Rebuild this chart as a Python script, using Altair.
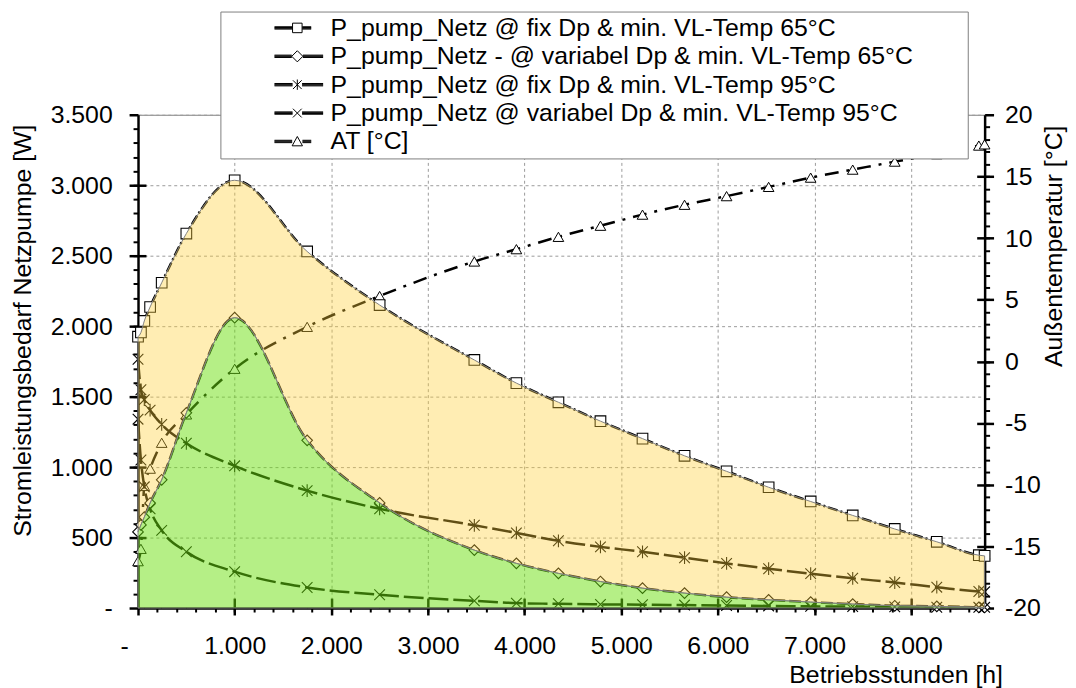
import altair as alt
import pandas as pd

FONT = "Liberation Sans"

# ---------------- data ----------------
hours = [0, 30, 65, 125, 245, 500, 1000, 1750, 2500, 3480, 3915, 4350, 4785,
         5220, 5655, 6090, 6525, 6960, 7395, 7830, 8265, 8700, 8760]
fix65 = [1925, 1955, 2037, 2136, 2308, 2657, 3035, 2530, 2150, 1760, 1596, 1460,
         1326, 1202, 1080, 970, 857, 756, 657, 561, 470, 375, 370]
var65 = [540, 590, 645, 745, 910, 1385, 2060, 1190, 746, 411, 317, 246, 188,
         141, 106, 77, 58, 42, 28, 16, 12, 5, 4]
fix95 = [1765, 1549, 1479, 1404, 1303, 1169, 1009, 833, 704, 587, 533, 477, 434,
         399, 357, 317, 279, 244, 211, 181, 148, 117, 115]
var95 = [1340, 1050, 860, 704, 551, 399, 258, 146, 94, 51, 35, 30, 26, 24, 21,
         18, 15, 12, 10, 8, 6, 5, 5]
at = [-16.2, -15.2, -10.1, -8.7, -6.6, -4.3, -0.6, 2.8, 5.3, 8.1, 9.1, 10.1, 11.0,
      11.9, 12.7, 13.4, 14.15, 14.9, 15.55, 16.2, 16.8, 17.5, 17.6]

SERIES = [
    "P_pump_Netz @ fix Dp & min. VL-Temp 65°C",
    "P_pump_Netz - @ variabel Dp & min. VL-Temp 65°C",
    "P_pump_Netz @ fix Dp & min. VL-Temp 95°C",
    "P_pump_Netz @ variabel Dp & min. VL-Temp 95°C",
    "AT [°C]",
]

x_major = [0, 1000, 2000, 3000, 4000, 5000, 6000, 7000, 8000]
x_minor = list(range(200, 8800, 200))
w_major = [0, 500, 1000, 1500, 2000, 2500, 3000, 3500]
w_minor = list(range(100, 3500, 100))
t_major = [-20, -15, -10, -5, 0, 5, 10, 15, 20]
t_minor = list(range(-19, 20))

# ---------------- styles ----------------
DASHES = [[10, 3, 2, 3], [12, 4], [20, 5], [20, 5], [14, 8, 3, 8]]
WIDTHS = [2.5, 2.5, 3, 3, 2.5]
ASTERISK = "M-1,-1L1,1M-1,1L1,-1M0,-1.2L0,1.2"
CROSS = "M-1,-1L1,1M-1,1L1,-1"
SHAPES = ["square", "diamond", ASTERISK, CROSS, "triangle-up"]
YELLOW = "#FFD037"
GREEN = "#6BDF0D"


def band(x0, x1):
    return "".join(f"M{x0},{d}H{x1}" for d in (-0.3, -0.1, 0.1, 0.3))


# legend samples: line segment + marker + line segment (unit = 4 px)
LEG_PATHS = [
    band(-5.75, -1.25) + "M-1.2,-1.2H1.2V1.2H-1.2Z" + band(1.25, 3.5),
    band(-5.75, -1.4) + "M0,-1.4L1.4,0L0,1.4L-1.4,0Z" + band(1.4, 6.5),
    band(-5.75, -1.2) + "M-1.1,-1.1L1.1,1.1M-1.1,1.1L1.1,-1.1M0,-1.3L0,1.3" + band(1.2, 6.5),
    band(-5.75, -1.2) + "M-1.1,-1.1L1.1,1.1M-1.1,1.1L1.1,-1.1" + band(1.2, 6.5),
    band(-5.75, -1.3) + "M0,-1.25L1.3,1.1H-1.3Z" + band(1.3, 3.5),
]

rows = []
for s, vals in zip(SERIES[:4], [fix65, var65, fix95, var95]):
    for h, v in zip(hours, vals):
        rows.append({"h": h, "v": v, "s": s})
power = pd.DataFrame(rows)
temp = pd.DataFrame({"h": hours, "v": at, "s": SERIES[4]})
wide = pd.DataFrame({"h": hours, "fix": fix65, "var": var65})

X_SCALE = alt.Scale(domain=[0, 8760], nice=False, zero=False)
W_SCALE = alt.Scale(domain=[0, 3500], nice=False, zero=False)
T_SCALE = alt.Scale(domain=[-20, 20], nice=False, zero=False)

legend = alt.Legend(
    title=" ", titleOrient="right", titlePadding=51, titleFontSize=25,
    orient="none", legendX=83, legendY=-104,
    symbolSize=64, symbolStrokeWidth=1, symbolStrokeColor="black",
    symbolOpacity=1, symbolOffset=61, labelOffset=21,
    padding=4, rowPadding=2.6, labelFont=FONT, labelFontSize=25,
    labelColor="black", labelLimit=1000, fillColor="white",
    strokeColor="#7f7f7f",
)

dash_enc = alt.StrokeDash("s:N", scale=alt.Scale(domain=SERIES, range=DASHES), legend=None)
width_enc = alt.StrokeWidth("s:N", scale=alt.Scale(domain=SERIES, range=WIDTHS), legend=None)
shape_enc = alt.Shape("s:N", scale=alt.Scale(domain=SERIES, range=SHAPES), legend=None)
leg_shape_enc = alt.Shape("s:N", scale=alt.Scale(domain=SERIES, range=LEG_PATHS), legend=legend)

NO = dict(labels=False, domain=False, grid=False, title=None)

ax_x_main = alt.Axis(
    orient="bottom", values=x_major, grid=True, tickSize=7, labelPadding=19,
    labelFlush=False, labelOverlap=False,
    labelOffset={"condition": {"test": "datum.value == 0", "value": -14}, "value": 0},
    labelExpr="datum.value == 0 ? '-' : replace(format(datum.value, ','), ',', '.')",
    title="Betriebsstunden [h]", titleX=871, titleY=67, titleAlign="right",
    titleBaseline="middle",
)
ax_x_minor = alt.Axis(orient="bottom", values=x_minor, tickSize=4, tickWidth=2, **NO)
ax_x_in = alt.Axis(orient="bottom", values=x_major[1:], offset=-10, tickSize=10, **NO)

ax_w_main = alt.Axis(
    orient="left", values=w_major, grid=True, tickSize=9, labelPadding=17,
    labelFlush=False, labelOverlap=False, labelBound=False,
    labelExpr="datum.value == 0 ? '-' : replace(format(datum.value, ','), ',', '.')",
    title="Stromleistungsbedarf Netzpumpe [W]", titleAngle=270, titleX=-116,
    titleY=217, titleAlign="center", titleBaseline="middle",
)
ax_w_minor = alt.Axis(orient="left", values=w_minor, tickSize=5, tickWidth=2, **NO)
ax_w_in = alt.Axis(orient="left", values=w_major[1:-1], offset=-8, tickSize=8, **NO)
ax_w_right_in = alt.Axis(orient="right", values=[437.5 * k for k in range(1, 8)],
                         offset=-8, tickSize=8, **NO)

ax_t_main = alt.Axis(
    orient="right", values=t_major, grid=False, tickSize=9, labelPadding=11,
    labelFlush=False, labelOverlap=False, labelExpr="'' + datum.value",
    title="Außentemperatur [°C]", titleAngle=270, titleX=69, titleY=132,
    titleAlign="center", titleBaseline="middle",
)
ax_t_minor = alt.Axis(orient="right", values=t_minor, tickSize=5, tickWidth=2, **NO)

# ---------------- layers ----------------
at_line = alt.Chart(temp).mark_line(color="black", interpolate="monotone").encode(
    x=alt.X("h:Q", scale=X_SCALE, axis=ax_x_main),
    y=alt.Y("v:Q", scale=T_SCALE, axis=ax_t_main),
    strokeDash=dash_enc, strokeWidth=width_enc,
)
at_pts = alt.Chart(temp).mark_point(
    filled=True, fill="white", stroke="black", strokeWidth=1, size=115, opacity=1
).encode(
    x=alt.X("h:Q", scale=X_SCALE, axis=ax_x_minor),
    y=alt.Y("v:Q", scale=T_SCALE, axis=ax_t_minor),
    shape=shape_enc,
)
p_lines = alt.Chart(power).mark_line(color="black", interpolate="monotone").encode(
    x=alt.X("h:Q", scale=X_SCALE, axis=ax_x_in),
    y=alt.Y("v:Q", scale=W_SCALE, axis=ax_w_main),
    strokeDash=dash_enc, strokeWidth=width_enc, detail="s:N",
)
p_pts = alt.Chart(power).mark_point(
    filled=True, fill="white", stroke="black", strokeWidth=1.1, size=115, opacity=1
).encode(
    x=alt.X("h:Q", scale=X_SCALE, axis=None),
    y=alt.Y("v:Q", scale=W_SCALE, axis=ax_w_minor),
    shape=shape_enc,
)
yellow = alt.Chart(wide).mark_area(
    color=YELLOW, fillOpacity=0.38, stroke="#808080", strokeWidth=1,
    strokeOpacity=1, interpolate="monotone"
).encode(
    x=alt.X("h:Q", scale=X_SCALE, axis=None),
    y=alt.Y("fix:Q", scale=W_SCALE, axis=ax_w_in),
    y2="var:Q",
)
green = alt.Chart(wide).mark_area(
    color=GREEN, fillOpacity=0.5, stroke="#808080", strokeWidth=1,
    strokeOpacity=1, interpolate="monotone"
).encode(
    x=alt.X("h:Q", scale=X_SCALE, axis=None),
    y=alt.Y("var:Q", scale=W_SCALE, axis=ax_w_right_in),
    y2=alt.datum(0),
)
# carries the legend only (draws no marks itself)
legend_layer = alt.Chart(temp).transform_filter("false").mark_point(
    filled=False, color="black", strokeWidth=1, size=64, opacity=1
).encode(
    x=alt.X("h:Q", scale=X_SCALE, axis=None),
    y=alt.Y("v:Q", scale=T_SCALE, axis=None),
    shape=leg_shape_enc,
)

chart = alt.layer(at_line, at_pts, p_lines, p_pts, yellow, green, legend_layer).resolve_scale(
    y="independent", shape="independent"
).resolve_axis(x="independent", y="independent").properties(
    width=853, height=497,
    padding={"left": 131, "top": 105, "right": 84, "bottom": 78},
    autosize=alt.AutoSizeParams(type="none"),
).configure_view(stroke="#808080", strokeWidth=1).configure_axis(
    labelFont=FONT, labelFontSize=25, labelColor="black",
    titleFont=FONT, titleFontSize=25, titleFontWeight="normal", titleColor="black",
    domainColor="black", domainWidth=2.5, tickColor="black", tickWidth=2.5,
    gridColor="#9a9a9a", gridDash=[3, 3], gridWidth=1,
)

chart.save("out.html", embed_options={"renderer": "svg", "actions": False})
